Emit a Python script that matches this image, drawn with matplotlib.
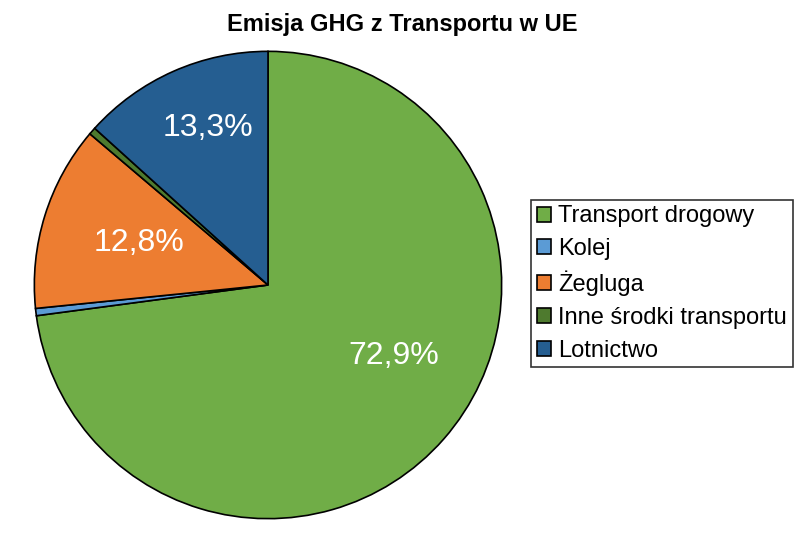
import numpy as np
import matplotlib.pyplot as plt

# Data
labels = ["Transport drogowy", "Kolej", "Żegluga", "Inne środki transportu", "Lotnictwo"]
values = [72.9, 0.5, 12.8, 0.5, 13.3]
shown = ["72,9%", "", "12,8%", "", "13,3%"]
colors = ["#70AD47", "#5B9BD5", "#ED7D31", "#4E7A2E", "#255E91"]

plt.rcParams['font.family'] = ['Liberation Sans', 'DejaVu Sans']

fig = plt.figure(figsize=(8.04, 5.33), dpi=100)
ax = fig.add_axes([32 / 804, 12 / 533, 472 / 804, 472 / 533])

wedges, _ = ax.pie(values, colors=colors, startangle=90, counterclock=False,
                   radius=1.0, wedgeprops=dict(edgecolor="black", linewidth=1.2))

# label placement (radius, angle in degrees) like the Excel original
label_pos = [(0.62, -29.4), None, (0.58, 162.0), None, (0.72, 111.0)]
for txt, pos in zip(shown, label_pos):
    if not txt:
        continue
    r, a = pos
    ang = np.deg2rad(a)
    ax.text(r * np.cos(ang), r * np.sin(ang), txt, ha="center", va="center",
            color="white", fontsize=23)

ax.set_xlim(-1.01, 1.01)
ax.set_ylim(-1.01, 1.01)
ax.axis("off")

fig.text(0.5, 1 - 24 / 533, "Emisja GHG z Transportu w UE",
         ha="center", va="center", fontsize=17, fontweight="bold")

leg = fig.legend(wedges, labels, loc="center left",
                 bbox_to_anchor=(531 / 804, 1 - 283.5 / 533),
                 fontsize=17, frameon=True, fancybox=False, edgecolor="black",
                 handlelength=0.6, handleheight=0.6, handletextpad=0.3,
                 labelspacing=0.45, borderpad=0.25, borderaxespad=0)
leg.get_frame().set_linewidth(1.2)

fig.savefig("out.png", dpi=100)
